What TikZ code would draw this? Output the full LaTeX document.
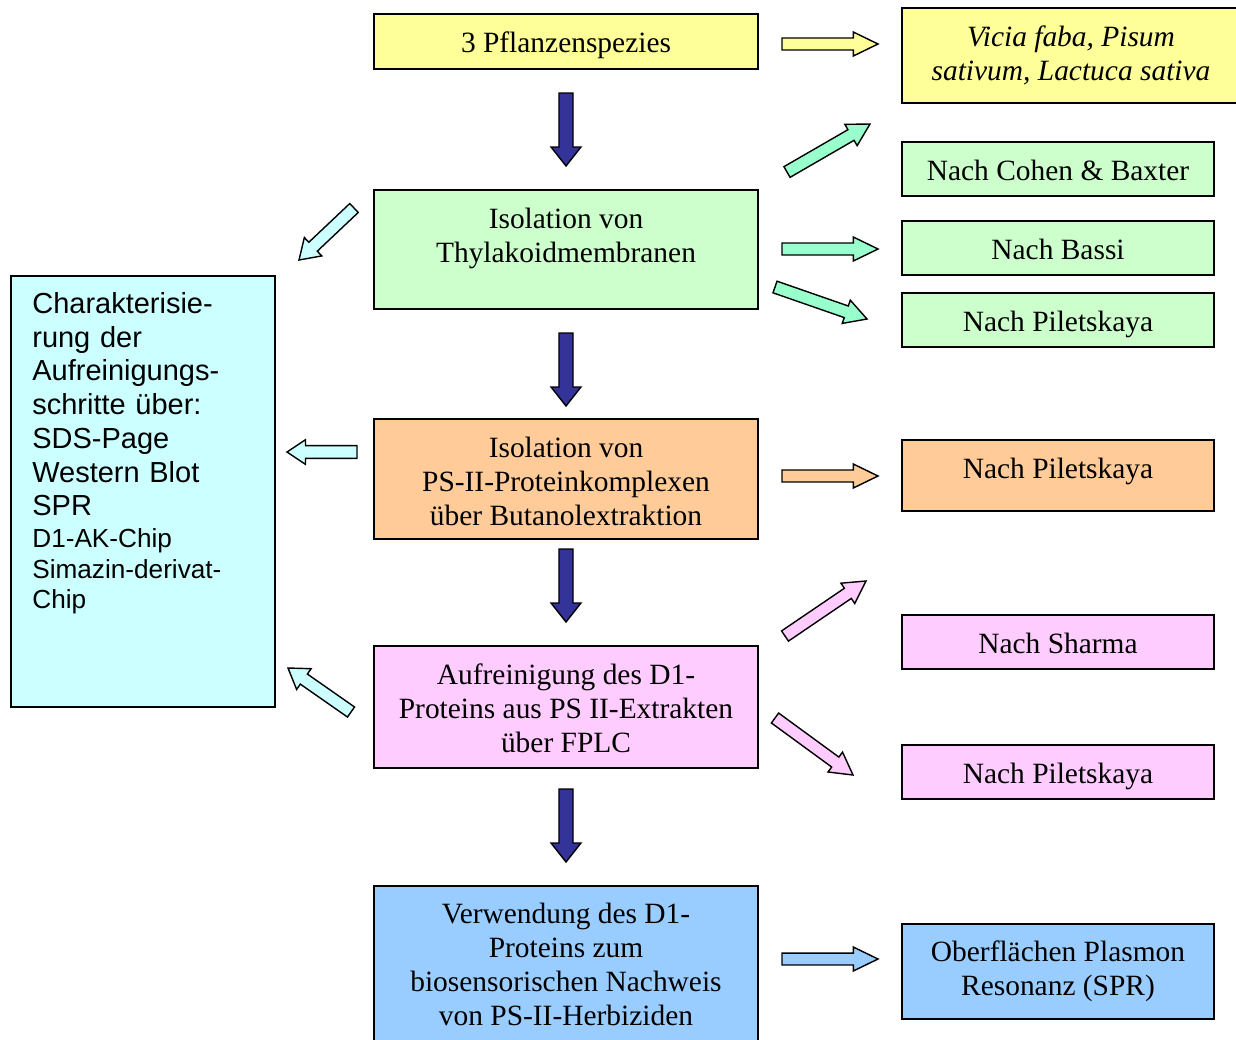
\documentclass[tikz,border=0pt]{standalone}
\usepackage{fontspec}
\setmainfont{Liberation Serif}
\setsansfont{Liberation Sans}
\usetikzlibrary{calc}
\definecolor{yellowbox}{HTML}{FFFF99}
\definecolor{greenbox}{HTML}{CCFFCC}
\definecolor{orangebox}{HTML}{FFCC99}
\definecolor{pinkbox}{HTML}{FFCCFF}
\definecolor{bluebox}{HTML}{99CCFF}
\definecolor{cyanbox}{HTML}{CCFFFF}
\definecolor{mintarrow}{HTML}{99FFCC}
\definecolor{darkarrow}{HTML}{333399}
\newcommand\boxfont{\fontsize{16.75}{19.4}\selectfont}
\def\blockarrow[#1](#2)(#3)(#4:#5:#6){%
	\coordinate (ba-h) at ($(#3)!#6!(#2)$);
	\draw[#1] ($(#2)!#4!90:(#3)$) -- ($(ba-h)!#4!-90:(#2)$) -- ($(ba-h)!#5!-90:(#2)$) -- (#3)
	-- ($(ba-h)!#5!90:(#2)$) -- ($(ba-h)!#4!90:(#2)$) -- ($(#2)!#4!-90:(#3)$) -- cycle;}

\begin{document}
\begin{tikzpicture}[x=0.02cm, y=-0.02cm,
		box/.style={draw, line width=0.8pt, inner sep=0pt, align=center, font=\boxfont},
		single/.style={text height=12.6pt, text depth=0pt},
		mainbox/.style={box, minimum width=7.68cm},
		sidebox/.style={box, minimum width=6.24cm, minimum height=1.08cm},
		txt/.style={inner sep=0pt, align=center, font=\boxfont},
		barrow/.style={draw=black, line width=0.8pt}]
		%%%%% START %%%%%
		\clip (0,0) rectangle (1236,1039);
		
		% main column
		\node[mainbox, single, fill=yellowbox, minimum height=1.1cm] (pflanzen) at (566,41.5) {3 Pflanzenspezies};
		\node[mainbox, fill=greenbox, minimum height=2.38cm] (thyl) at (566,249.5) {};
		\node[txt] (thyltext) at (566,238) {Isolation von\\Thylakoidmembranen};
		\node[mainbox, fill=orangebox, minimum height=2.4cm] (butanol) at (566,479) {};
		\node[txt] (butanoltext) at (566,481.5) {Isolation von\\PS-II-Proteinkomplexen\\über Butanolextraktion};
		\node[mainbox, fill=pinkbox, minimum height=2.44cm] (fplc) at (566,707) {};
		\node[txt] (fplctext) at (566,708) {Aufreinigung des D1-\\Proteins aus PS II-Extrakten\\über FPLC};
		\node[mainbox, fill=bluebox, minimum height=3.48cm] (nachweis) at (566,973) {};
		\node[txt] (nachweistext) at (566,964.5) {Verwendung des D1-\\Proteins zum\\biosensorischen Nachweis\\von PS-II-Herbiziden};
		
		% right column
		\node[box, fill=yellowbox, minimum width=6.76cm, minimum height=1.9cm, font=\boxfont\itshape] (vicia) at (1071,55.5) {Vicia faba, Pisum\\sativum, Lactuca sativa};
		\node[sidebox, single, fill=greenbox] (cohen) at (1058,169) {Nach Cohen \& Baxter};
		\node[sidebox, single, fill=greenbox] (bassi) at (1058,248) {Nach Bassi};
		\node[sidebox, single, fill=greenbox] (piletA) at (1058,320) {Nach Piletskaya};
		\node[sidebox, fill=orangebox, minimum height=1.42cm] (piletB) at (1058,475.5) {};
		\node[txt] (piletBtext) at (1058,471) {Nach Piletskaya};
		\node[sidebox, single, fill=pinkbox] (sharma) at (1058,642) {Nach Sharma};
		\node[sidebox, single, fill=pinkbox] (piletC) at (1058,772) {Nach Piletskaya};
		\node[sidebox, fill=bluebox, minimum height=1.9cm] (spr) at (1058,971.5) {Oberflächen Plasmon\\Resonanz (SPR)};
		
		% left column
		\node[box, fill=cyanbox, minimum width=5.28cm, minimum height=8.62cm] (chara) at (143,491.5) {};
		\node[inner sep=0pt, anchor=north west, text width=5cm, align=left,
			font=\sffamily\fontsize{16.5}{19.2}\selectfont] (charatext) at (32,292)
			{Charakterisie-\\rung der\\Aufreinigungs-\\schritte über:\\SDS-Page\\Western Blot\\SPR\par
			\vspace{1pt}\fontsize{14.9}{17.3}\selectfont D1-AK-Chip\\Simazin-derivat-\\Chip\par};
		
		% arrow ends
		\coordinate (d1a) at (566,93);  \coordinate (d1b) at (566,166);
		\coordinate (d2a) at (566,333); \coordinate (d2b) at (566,406);
		\coordinate (d3a) at (566,549); \coordinate (d3b) at (566,622);
		\coordinate (d4a) at (566,789); \coordinate (d4b) at (566,862);
		\coordinate (y1a) at (782,44);  \coordinate (y1b) at (878,44);
		\coordinate (g1a) at (787,172); \coordinate (g1b) at (870,124);
		\coordinate (g2a) at (782,249); \coordinate (g2b) at (878,249);
		\coordinate (g3a) at (775,287); \coordinate (g3b) at (867,319);
		\coordinate (o1a) at (782,476); \coordinate (o1b) at (878,476);
		\coordinate (p1a) at (785,636); \coordinate (p1b) at (866,581);
		\coordinate (p2a) at (775,718); \coordinate (p2b) at (853,775);
		\coordinate (b1a) at (782,959); \coordinate (b1b) at (878,959);
		\coordinate (c1a) at (354,208); \coordinate (c1b) at (299,260);
		\coordinate (c2a) at (357,452); \coordinate (c2b) at (287,452);
		\coordinate (c3a) at (351,712); \coordinate (c3b) at (288,668);
		
		% block arrows
		\blockarrow[barrow, fill=darkarrow](d1a)(d1b)(4pt:8.5pt:10.8pt)
		\blockarrow[barrow, fill=darkarrow](d2a)(d2b)(4pt:8.5pt:10.8pt)
		\blockarrow[barrow, fill=darkarrow](d3a)(d3b)(4pt:8.5pt:10.8pt)
		\blockarrow[barrow, fill=darkarrow](d4a)(d4b)(4pt:8.5pt:10.8pt)
		
		\blockarrow[barrow, fill=yellowbox](y1a)(y1b)(3.4pt:6.8pt:14pt)
		\blockarrow[barrow, fill=mintarrow](g1a)(g1b)(3.5pt:7pt:12.5pt)
		\blockarrow[barrow, fill=mintarrow](g2a)(g2b)(3.4pt:6.8pt:14pt)
		\blockarrow[barrow, fill=mintarrow](g3a)(g3b)(3.5pt:7pt:12.5pt)
		\blockarrow[barrow, fill=orangebox](o1a)(o1b)(3.4pt:6.8pt:14pt)
		\blockarrow[barrow, fill=pinkbox](p1a)(p1b)(3.5pt:7pt:12.5pt)
		\blockarrow[barrow, fill=pinkbox](p2a)(p2b)(3.5pt:7pt:12.5pt)
		\blockarrow[barrow, fill=bluebox](b1a)(b1b)(3.4pt:6.8pt:14pt)
		
		\blockarrow[barrow, fill=cyanbox](c1a)(c1b)(3.5pt:7.2pt:11pt)
		\blockarrow[barrow, fill=cyanbox](c2a)(c2b)(3.6pt:7pt:10.5pt)
		\blockarrow[barrow, fill=cyanbox](c3a)(c3b)(3.5pt:7.2pt:11pt)
		%%%%% END %%%%%
\end{tikzpicture}
\end{document}
